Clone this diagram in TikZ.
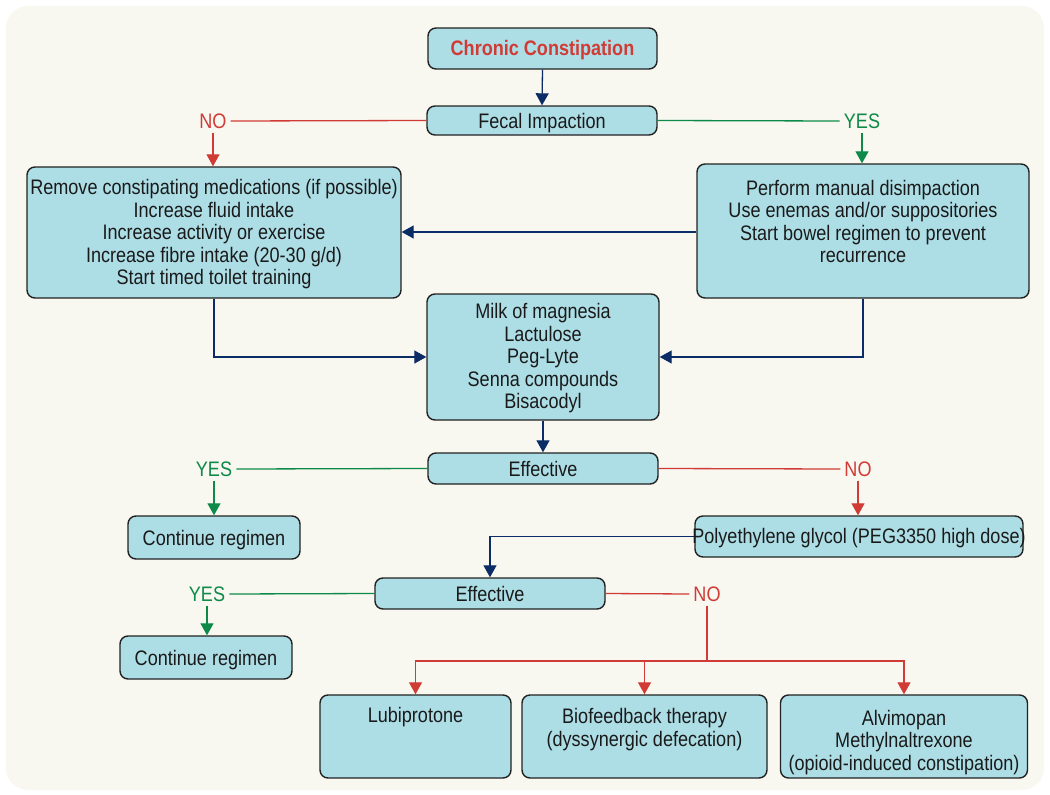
\documentclass[tikz,border=0pt]{standalone}
\usepackage{fontspec}
\setmainfont{Liberation Sans}[FakeStretch=0.86]
\usetikzlibrary{arrows.meta}
\definecolor{bg}{HTML}{F8F7F0}
\definecolor{boxfill}{HTML}{ADDEE6}
\definecolor{myred}{HTML}{D13B36}
\definecolor{mygreen}{HTML}{0D8A48}
\definecolor{mynavy}{HTML}{0C2C66}
\definecolor{edge}{HTML}{222222}
\definecolor{txt}{HTML}{1A1A1A}
\newcommand\dph{\vphantom{gl}}
\begin{document}
\begin{tikzpicture}[x=1pt,y=-1pt,
  box/.style={draw=edge, fill=boxfill, line width=1.4pt, rounded corners=8pt, inner sep=0pt},
  btxt/.style={align=center, font=\fontsize{21}{22.5}\selectfont, inner sep=0pt, text=txt, yshift=-2pt},
  lab/.style={font=\fontsize{21}{22.5}\selectfont, inner sep=4pt},
  conn/.style={line width=1.3pt},
  tip/.style={-{Triangle[width=13pt,length=12pt]}}]
\useasboundingbox (0,0) rectangle (1050,795);
\fill[bg, rounded corners=22pt] (6,6) rectangle (1044,790);

% boxes
\node[box, minimum width=229pt, minimum height=41pt] (cc) at (542.5,48.5) {};
\node[btxt, text=myred, font=\fontsize{21}{22.5}\selectfont\bfseries] (ccT) at (542.5,48) {\dph Chronic Constipation};
\node[box, minimum width=230pt, minimum height=29pt] (fecal) at (542,120.5) {};
\node[btxt] (fecalT) at (542,121) {\dph Fecal Impaction};
\node[box, minimum width=374pt, minimum height=131pt] (left) at (214,232.5) {};
\node[btxt] (leftT) at (214,232.5)
  {\dph Remove constipating medications (if possible)\\Increase fluid intake\\Increase activity or exercise\\Increase fibre intake (20-30 g/d)\\Start timed toilet training\dph};
\node[box, minimum width=332pt, minimum height=134pt] (right) at (863,231) {};
\node[btxt] (rightT) at (863,221.5)
  {\dph Perform manual disimpaction\\Use enemas and/or suppositories\\Start bowel regimen to prevent\\recurrence\dph};
\node[box, minimum width=232pt, minimum height=126pt] (mid) at (543,357) {};
\node[btxt] (midT) at (543,356.5)
  {\dph Milk of magnesia\\Lactulose\\Peg-Lyte\\Senna compounds\\Bisacodyl\dph};
\node[box, minimum width=230pt, minimum height=31pt] (eff1) at (543,468.5) {};
\node[btxt] (eff1T) at (543,469) {\dph Effective};
\node[box, minimum width=172pt, minimum height=43pt] (cont1) at (214,537.5) {};
\node[btxt] (cont1T) at (214,538) {\dph Continue regimen};
\node[box, minimum width=328pt, minimum height=41pt] (peg) at (859,536.5) {};
\node[btxt] (pegT) at (859,536.5) {\dph Polyethylene glycol (PEG3350 high dose)};
\node[box, minimum width=230pt, minimum height=31pt] (eff2) at (490,593.5) {};
\node[btxt] (eff2T) at (490,594) {\dph Effective};
\node[box, minimum width=172pt, minimum height=43pt] (cont2) at (206,657.5) {};
\node[btxt] (cont2T) at (206,658) {\dph Continue regimen};
\node[box, minimum width=191pt, minimum height=83pt] (lub) at (415.5,736.5) {};
\node[btxt] (lubT) at (415.5,715) {\dph Lubiprotone};
\node[box, minimum width=245pt, minimum height=83pt] (bio) at (644.5,736.5) {};
\node[btxt] (bioT) at (644.5,727.5) {\dph Biofeedback therapy\\(dyssynergic defecation)\dph};
\node[box, minimum width=247pt, minimum height=83pt] (alv) at (904,736.5) {};
\node[btxt] (alvT) at (904,740.5) {\dph Alvimopan\\Methylnaltrexone\\(opioid-induced constipation)\dph};

% labels
\node[lab, text=myred] (no1) at (213,121) {NO};
\node[lab, text=mygreen] (yes1) at (862,121) {YES};
\node[lab, text=mygreen] (yes2) at (214,469) {YES};
\node[lab, text=myred] (no2) at (858,469) {NO};
\node[lab, text=mygreen] (yes3) at (207,594) {YES};
\node[lab, text=myred] (no3) at (707,594) {NO};

% connectors
\draw[conn, mynavy, tip] (cc.south) -- (fecal.north);
\draw[conn, myred] (fecal.west) -- (no1.east);
\draw[conn, myred, tip] (no1.south) -- (no1.south |- left.north);
\draw[conn, mygreen] (fecal.east) -- (yes1.west);
\draw[conn, mygreen, tip] (yes1.south) -- (yes1.south |- right.north);
\draw[conn, mynavy, tip] (right.west |- 0,232) -- (left.east |- 0,232);
\draw[conn, mynavy, tip] (left.south) |- (mid.west);
\draw[conn, mynavy, tip] (right.south) |- (mid.east);
\draw[conn, mynavy, tip] (mid.south) -- (eff1.north);
\draw[conn, mygreen] (eff1.west) -- (yes2.east);
\draw[conn, mygreen, tip] (yes2.south) -- (yes2.south |- cont1.north);
\draw[conn, myred] (eff1.east) -- (no2.west);
\draw[conn, myred, tip] (no2.south) -- (no2.south |- peg.north);
\draw[conn, mynavy, tip] (peg.west) -| (eff2.north);
\draw[conn, mygreen] (eff2.west) -- (yes3.east);
\draw[conn, mygreen, tip] (yes3.south) -- (yes3.south |- cont2.north);
\draw[conn, myred] (eff2.east) -- (no3.west);
\coordinate (split) at (707,661);
\draw[conn, myred] (no3.south) -- (split);
\draw[conn, myred, tip] (split) -| (lub.north);
\draw[conn, myred, tip] (split) -| (alv.north);
\draw[conn, myred, tip] (bio.north |- split) -- (bio.north);
\end{tikzpicture}
\end{document}
